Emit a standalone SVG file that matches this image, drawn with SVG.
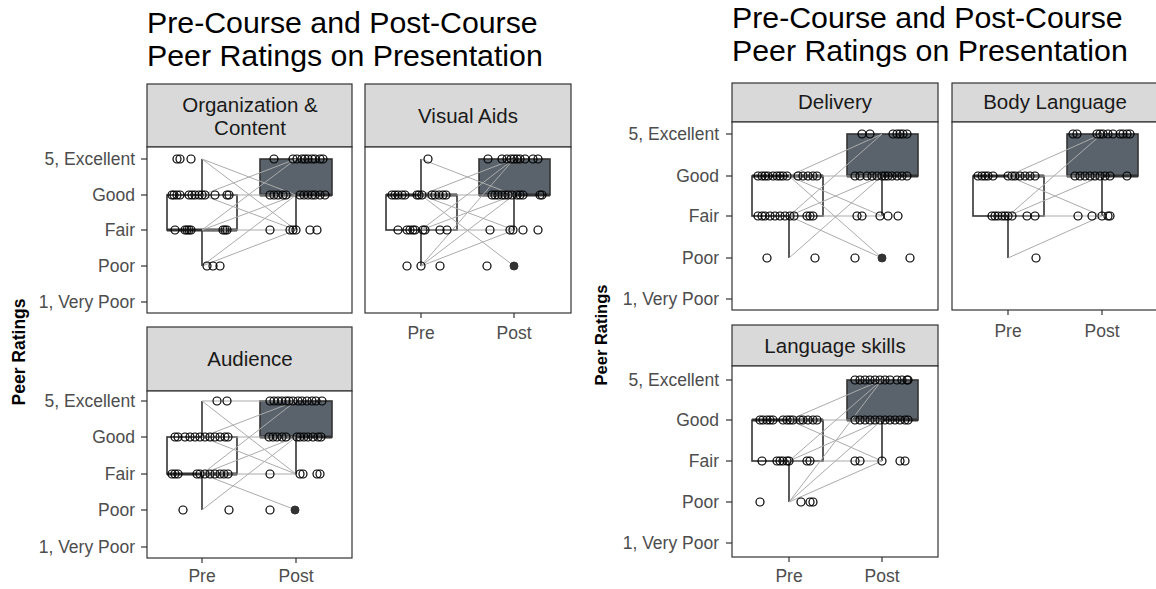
<svg xmlns="http://www.w3.org/2000/svg" width="1156" height="589" viewBox="0 0 1156 589">
<style>
.t{font-family:"Liberation Sans",Arial,sans-serif;font-size:30.3px;fill:#000}
.s{font-family:"Liberation Sans",Arial,sans-serif;font-size:20.5px;fill:#1a1a1a;text-anchor:middle}
.y{font-family:"Liberation Sans",Arial,sans-serif;font-size:17.5px;fill:#4d4d4d;text-anchor:end}
.x{font-family:"Liberation Sans",Arial,sans-serif;font-size:17.5px;fill:#4d4d4d;text-anchor:middle}
.a{font-family:"Liberation Sans",Arial,sans-serif;font-weight:bold;fill:#000;text-anchor:middle}
.st{fill:#d9d9d9;stroke:#333;stroke-width:1.2}
.pn{fill:#fff;stroke:#333;stroke-width:1.2}
.tk{stroke:#333;stroke-width:1.2}
.bx{fill:none;stroke:#333;stroke-width:1.6}
.bf{fill:#5a636c;stroke:#333;stroke-width:1.6}
.md{stroke:#333;stroke-width:3}
.wk{stroke:#333;stroke-width:1.6}
.ln{fill:none;stroke:#ababab;stroke-width:1}
.p circle{fill:none;stroke:#000;stroke-width:1.2;r:4px}
.o{fill:#333;stroke:#333}
</style>
<rect width="1156" height="589" fill="#fff"/>

<!-- LEFT FIGURE -->
<text class="t" x="147" y="33">Pre-Course and Post-Course</text>
<text class="t" x="147" y="66">Peer Ratings on Presentation</text>
<text class="a" font-size="17.5" transform="translate(25,352) rotate(-90)">Peer Ratings</text>

<g id="org-content">
<rect class="st" x="147" y="84" width="205" height="63"/>
<text class="s" x="250" y="112">Organization &amp;</text>
<text class="s" x="250" y="135">Content</text>
<rect class="pn" x="147" y="147" width="205" height="166"/>
<g class="tk"><line x1="141" y1="159" x2="147" y2="159"/><line x1="141" y1="195" x2="147" y2="195"/><line x1="141" y1="230" x2="147" y2="230"/><line x1="141" y1="266" x2="147" y2="266"/><line x1="141" y1="302" x2="147" y2="302"/></g>
<text class="y" x="135" y="165">5, Excellent</text><text class="y" x="135" y="201">Good</text><text class="y" x="135" y="236">Fair</text><text class="y" x="135" y="272">Poor</text><text class="y" x="135" y="308">1, Very Poor</text>
<line class="wk" x1="202" y1="159" x2="202" y2="195"/><line class="wk" x1="202" y1="230" x2="202" y2="266"/>
<rect class="bx" x="167" y="195" width="70" height="35"/><line class="md" x1="167" y1="230" x2="237" y2="230"/>
<line class="wk" x1="296" y1="195" x2="296" y2="230"/>
<rect class="bf" x="260" y="159" width="72" height="36"/><line class="md" x1="260" y1="195" x2="332" y2="195"/>
<path class="ln" d="M202 159L296 230M202 159L296 195M202 195L296 159M202 195L296 195M202 195L296 230M202 230L296 159M202 230L296 195M202 230L296 230M202 266L296 195M202 266L296 230"/>
<g class="p">
<circle cx="177" cy="159" r="4"/><circle cx="180" cy="159" r="4"/><circle cx="191" cy="159" r="4"/>
<circle cx="172" cy="195" r="4"/><circle cx="174" cy="195" r="4"/><circle cx="177" cy="195" r="4"/><circle cx="180" cy="195" r="4"/><circle cx="189" cy="195" r="4"/><circle cx="192" cy="195" r="4"/><circle cx="195" cy="195" r="4"/><circle cx="199" cy="195" r="4"/><circle cx="202" cy="195" r="4"/><circle cx="205" cy="195" r="4"/><circle cx="215" cy="195" r="4"/><circle cx="227" cy="195" r="4"/><circle cx="229" cy="195" r="4"/>
<circle cx="175" cy="230" r="4"/><circle cx="185" cy="230" r="4"/><circle cx="187" cy="230" r="4"/><circle cx="189" cy="230" r="4"/><circle cx="191" cy="230" r="4"/><circle cx="223" cy="230" r="4"/><circle cx="225" cy="230" r="4"/><circle cx="227" cy="230" r="4"/>
<circle cx="207" cy="266" r="4"/><circle cx="213" cy="266" r="4"/><circle cx="220" cy="266" r="4"/>
<circle cx="274" cy="159" r="4"/><circle cx="293" cy="159" r="4"/><circle cx="297" cy="159" r="4"/><circle cx="302" cy="159" r="4"/><circle cx="305" cy="159" r="4"/><circle cx="308" cy="159" r="4"/><circle cx="312" cy="159" r="4"/><circle cx="315" cy="159" r="4"/><circle cx="320" cy="159" r="4"/><circle cx="323" cy="159" r="4"/>
<circle cx="270" cy="195" r="4"/><circle cx="274" cy="195" r="4"/><circle cx="278" cy="195" r="4"/><circle cx="283" cy="195" r="4"/><circle cx="286" cy="195" r="4"/><circle cx="300" cy="195" r="4"/><circle cx="304" cy="195" r="4"/><circle cx="308" cy="195" r="4"/><circle cx="312" cy="195" r="4"/><circle cx="315" cy="195" r="4"/><circle cx="320" cy="195" r="4"/><circle cx="325" cy="195" r="4"/>
<circle cx="270" cy="230" r="4"/><circle cx="290" cy="230" r="4"/><circle cx="293" cy="230" r="4"/><circle cx="296" cy="230" r="4"/><circle cx="310" cy="230" r="4"/><circle cx="317" cy="230" r="4"/>
</g>
</g>

<g id="visual-aids">
<rect class="st" x="365" y="84" width="206" height="63"/>
<text class="s" x="468" y="123">Visual Aids</text>
<rect class="pn" x="365" y="147" width="206" height="166"/>
<g class="tk"><line x1="421" y1="313" x2="421" y2="318"/><line x1="514" y1="313" x2="514" y2="318"/></g>
<text class="x" x="421" y="339">Pre</text><text class="x" x="514" y="339">Post</text>
<line class="wk" x1="421" y1="159" x2="421" y2="195"/><line class="wk" x1="421" y1="230" x2="421" y2="266"/>
<rect class="bx" x="386" y="195" width="71" height="35"/><line class="md" x1="386" y1="195" x2="457" y2="195"/>
<line class="wk" x1="514" y1="195" x2="514" y2="230"/>
<rect class="bf" x="479" y="159" width="71" height="36"/><line class="md" x1="479" y1="195" x2="550" y2="195"/>
<path class="ln" d="M421 159L514 195M421 195L514 159M421 195L514 195M421 195L514 230M421 195L514 266M421 230L514 159M421 230L514 195M421 230L514 230M421 266L514 159M421 266L514 195M421 266L514 230"/>
<circle class="o" cx="514" cy="266" r="4"/>
<g class="p">
<circle cx="428" cy="159" r="4"/>
<circle cx="392" cy="195" r="4"/><circle cx="395" cy="195" r="4"/><circle cx="398" cy="195" r="4"/><circle cx="402" cy="195" r="4"/><circle cx="405" cy="195" r="4"/><circle cx="417" cy="195" r="4"/><circle cx="419" cy="195" r="4"/><circle cx="422" cy="195" r="4"/><circle cx="432" cy="195" r="4"/><circle cx="435" cy="195" r="4"/><circle cx="439" cy="195" r="4"/><circle cx="443" cy="195" r="4"/><circle cx="446" cy="195" r="4"/>
<circle cx="398" cy="230" r="4"/><circle cx="407" cy="230" r="4"/><circle cx="410" cy="230" r="4"/><circle cx="413" cy="230" r="4"/><circle cx="415" cy="230" r="4"/><circle cx="423" cy="230" r="4"/><circle cx="425" cy="230" r="4"/><circle cx="440" cy="230" r="4"/><circle cx="447" cy="230" r="4"/>
<circle cx="407" cy="266" r="4"/><circle cx="421" cy="266" r="4"/><circle cx="440" cy="266" r="4"/>
<circle cx="488" cy="159" r="4"/><circle cx="502" cy="159" r="4"/><circle cx="507" cy="159" r="4"/><circle cx="511" cy="159" r="4"/><circle cx="514" cy="159" r="4"/><circle cx="517" cy="159" r="4"/><circle cx="520" cy="159" r="4"/><circle cx="525" cy="159" r="4"/><circle cx="533" cy="159" r="4"/><circle cx="538" cy="159" r="4"/>
<circle cx="492" cy="195" r="4"/><circle cx="495" cy="195" r="4"/><circle cx="498" cy="195" r="4"/><circle cx="502" cy="195" r="4"/><circle cx="505" cy="195" r="4"/><circle cx="508" cy="195" r="4"/><circle cx="512" cy="195" r="4"/><circle cx="517" cy="195" r="4"/><circle cx="520" cy="195" r="4"/><circle cx="523" cy="195" r="4"/><circle cx="540" cy="195" r="4"/><circle cx="542" cy="195" r="4"/>
<circle cx="490" cy="230" r="4"/><circle cx="510" cy="230" r="4"/><circle cx="513" cy="230" r="4"/><circle cx="523" cy="230" r="4"/><circle cx="538" cy="230" r="4"/>
<circle cx="487" cy="266" r="4"/>
</g>
</g>

<g id="audience">
<rect class="st" x="147" y="327" width="205" height="64"/>
<text class="s" x="250" y="366">Audience</text>
<rect class="pn" x="147" y="391" width="205" height="167"/>
<g class="tk"><line x1="141" y1="401" x2="147" y2="401"/><line x1="141" y1="437" x2="147" y2="437"/><line x1="141" y1="474" x2="147" y2="474"/><line x1="141" y1="510" x2="147" y2="510"/><line x1="141" y1="547" x2="147" y2="547"/><line x1="202" y1="558" x2="202" y2="563"/><line x1="296" y1="558" x2="296" y2="563"/></g>
<text class="y" x="135" y="407">5, Excellent</text><text class="y" x="135" y="443">Good</text><text class="y" x="135" y="480">Fair</text><text class="y" x="135" y="516">Poor</text><text class="y" x="135" y="553">1, Very Poor</text>
<text class="x" x="202" y="582">Pre</text><text class="x" x="296" y="582">Post</text>
<line class="wk" x1="202" y1="401" x2="202" y2="437"/><line class="wk" x1="202" y1="474" x2="202" y2="510"/>
<rect class="bx" x="167" y="437" width="70" height="37"/><line class="md" x1="167" y1="474" x2="237" y2="474"/>
<line class="wk" x1="296" y1="437" x2="296" y2="474"/>
<rect class="bf" x="260" y="401" width="72" height="36"/><line class="md" x1="260" y1="437" x2="332" y2="437"/>
<path class="ln" d="M202 401L296 401M202 401L296 474M202 437L296 401M202 437L296 437M202 437L296 474M202 474L296 401M202 474L296 437M202 474L296 474M202 474L296 510M202 510L296 437"/>
<circle class="o" cx="295" cy="510" r="4"/>
<g class="p">
<circle cx="217" cy="401" r="4"/><circle cx="227" cy="401" r="4"/>
<circle cx="175" cy="437" r="4"/><circle cx="178" cy="437" r="4"/><circle cx="185" cy="437" r="4"/><circle cx="190" cy="437" r="4"/><circle cx="195" cy="437" r="4"/><circle cx="200" cy="437" r="4"/><circle cx="205" cy="437" r="4"/><circle cx="210" cy="437" r="4"/><circle cx="215" cy="437" r="4"/><circle cx="220" cy="437" r="4"/><circle cx="225" cy="437" r="4"/><circle cx="228" cy="437" r="4"/>
<circle cx="172" cy="474" r="4"/><circle cx="175" cy="474" r="4"/><circle cx="178" cy="474" r="4"/><circle cx="197" cy="474" r="4"/><circle cx="200" cy="474" r="4"/><circle cx="205" cy="474" r="4"/><circle cx="210" cy="474" r="4"/><circle cx="215" cy="474" r="4"/><circle cx="220" cy="474" r="4"/><circle cx="224" cy="474" r="4"/><circle cx="228" cy="474" r="4"/>
<circle cx="183" cy="510" r="4"/><circle cx="229" cy="510" r="4"/>
<circle cx="270" cy="401" r="4"/><circle cx="274" cy="401" r="4"/><circle cx="278" cy="401" r="4"/><circle cx="282" cy="401" r="4"/><circle cx="286" cy="401" r="4"/><circle cx="289" cy="401" r="4"/><circle cx="293" cy="401" r="4"/><circle cx="298" cy="401" r="4"/><circle cx="302" cy="401" r="4"/><circle cx="307" cy="401" r="4"/><circle cx="312" cy="401" r="4"/><circle cx="316" cy="401" r="4"/><circle cx="322" cy="401" r="4"/>
<circle cx="269" cy="437" r="4"/><circle cx="273" cy="437" r="4"/><circle cx="277" cy="437" r="4"/><circle cx="282" cy="437" r="4"/><circle cx="286" cy="437" r="4"/><circle cx="297" cy="437" r="4"/><circle cx="300" cy="437" r="4"/><circle cx="304" cy="437" r="4"/><circle cx="308" cy="437" r="4"/><circle cx="313" cy="437" r="4"/><circle cx="318" cy="437" r="4"/><circle cx="321" cy="437" r="4"/>
<circle cx="270" cy="474" r="4"/><circle cx="300" cy="474" r="4"/><circle cx="303" cy="474" r="4"/><circle cx="317" cy="474" r="4"/><circle cx="320" cy="474" r="4"/>
<circle cx="270" cy="510" r="4"/>
</g>
</g>

<!-- RIGHT FIGURE -->
<text class="t" x="732" y="28">Pre-Course and Post-Course</text>
<text class="t" x="732" y="61">Peer Ratings on Presentation</text>
<text class="a" font-size="16.5" transform="translate(607,335) rotate(-90)">Peer Ratings</text>

<g id="delivery">
<rect class="st" x="732" y="83" width="206" height="39"/>
<text class="s" x="835" y="109">Delivery</text>
<rect class="pn" x="732" y="122" width="206" height="188"/>
<g class="tk"><line x1="726" y1="134" x2="732" y2="134"/><line x1="726" y1="176" x2="732" y2="176"/><line x1="726" y1="216" x2="732" y2="216"/><line x1="726" y1="258" x2="732" y2="258"/><line x1="726" y1="299" x2="732" y2="299"/></g>
<text class="y" x="719" y="140">5, Excellent</text><text class="y" x="719" y="182">Good</text><text class="y" x="719" y="222">Fair</text><text class="y" x="719" y="264">Poor</text><text class="y" x="719" y="305">1, Very Poor</text>
<line class="wk" x1="789" y1="216" x2="789" y2="258"/>
<rect class="bx" x="752" y="176" width="71" height="40"/><line class="md" x1="752" y1="176" x2="823" y2="176"/>
<line class="wk" x1="882" y1="176" x2="882" y2="216"/>
<rect class="bf" x="847" y="134" width="71" height="42"/><line class="md" x1="847" y1="176" x2="918" y2="176"/>
<path class="ln" d="M789 176L882 134M789 176L882 176M789 176L882 216M789 176L882 258M789 216L882 134M789 216L882 176M789 216L882 216M789 216L882 258M789 258L882 176"/>
<circle class="o" cx="882" cy="258" r="4"/>
<g class="p">
<circle cx="758" cy="176" r="4"/><circle cx="762" cy="176" r="4"/><circle cx="765" cy="176" r="4"/><circle cx="768" cy="176" r="4"/><circle cx="773" cy="176" r="4"/><circle cx="777" cy="176" r="4"/><circle cx="780" cy="176" r="4"/><circle cx="783" cy="176" r="4"/><circle cx="787" cy="176" r="4"/><circle cx="798" cy="176" r="4"/><circle cx="803" cy="176" r="4"/><circle cx="808" cy="176" r="4"/><circle cx="813" cy="176" r="4"/><circle cx="817" cy="176" r="4"/>
<circle cx="758" cy="216" r="4"/><circle cx="762" cy="216" r="4"/><circle cx="765" cy="216" r="4"/><circle cx="770" cy="216" r="4"/><circle cx="775" cy="216" r="4"/><circle cx="780" cy="216" r="4"/><circle cx="785" cy="216" r="4"/><circle cx="790" cy="216" r="4"/><circle cx="794" cy="216" r="4"/><circle cx="807" cy="216" r="4"/><circle cx="810" cy="216" r="4"/><circle cx="813" cy="216" r="4"/>
<circle cx="767" cy="258" r="4"/><circle cx="815" cy="258" r="4"/>
<circle cx="862" cy="134" r="4"/><circle cx="870" cy="134" r="4"/><circle cx="893" cy="134" r="4"/><circle cx="897" cy="134" r="4"/><circle cx="900" cy="134" r="4"/><circle cx="903" cy="134" r="4"/><circle cx="907" cy="134" r="4"/>
<circle cx="855" cy="176" r="4"/><circle cx="860" cy="176" r="4"/><circle cx="867" cy="176" r="4"/><circle cx="872" cy="176" r="4"/><circle cx="877" cy="176" r="4"/><circle cx="882" cy="176" r="4"/><circle cx="885" cy="176" r="4"/><circle cx="888" cy="176" r="4"/><circle cx="892" cy="176" r="4"/><circle cx="897" cy="176" r="4"/><circle cx="902" cy="176" r="4"/><circle cx="907" cy="176" r="4"/>
<circle cx="857" cy="216" r="4"/><circle cx="862" cy="216" r="4"/><circle cx="880" cy="216" r="4"/><circle cx="888" cy="216" r="4"/><circle cx="898" cy="216" r="4"/>
<circle cx="855" cy="258" r="4"/><circle cx="910" cy="258" r="4"/>
</g>
</g>

<g id="body-language">
<rect class="st" x="952" y="83" width="206" height="39"/>
<text class="s" x="1055" y="109">Body Language</text>
<rect class="pn" x="952" y="122" width="206" height="188"/>
<g class="tk"><line x1="1008" y1="310" x2="1008" y2="315"/><line x1="1102" y1="310" x2="1102" y2="315"/></g>
<text class="x" x="1008" y="337">Pre</text><text class="x" x="1102" y="337">Post</text>
<line class="wk" x1="1008" y1="216" x2="1008" y2="258"/>
<rect class="bx" x="973" y="176" width="71" height="40"/><line class="md" x1="973" y1="176" x2="1044" y2="176"/>
<line class="wk" x1="1102" y1="176" x2="1102" y2="216"/>
<rect class="bf" x="1067" y="134" width="71" height="42"/><line class="md" x1="1067" y1="176" x2="1138" y2="176"/>
<path class="ln" d="M1008 176L1102 134M1008 176L1102 176M1008 176L1102 216M1008 216L1102 134M1008 216L1102 176M1008 216L1102 216M1008 258L1102 216"/>
<g class="p">
<circle cx="978" cy="176" r="4"/><circle cx="982" cy="176" r="4"/><circle cx="985" cy="176" r="4"/><circle cx="988" cy="176" r="4"/><circle cx="993" cy="176" r="4"/><circle cx="1008" cy="176" r="4"/><circle cx="1012" cy="176" r="4"/><circle cx="1015" cy="176" r="4"/><circle cx="1020" cy="176" r="4"/><circle cx="1025" cy="176" r="4"/><circle cx="1030" cy="176" r="4"/><circle cx="1035" cy="176" r="4"/>
<circle cx="992" cy="216" r="4"/><circle cx="995" cy="216" r="4"/><circle cx="998" cy="216" r="4"/><circle cx="1002" cy="216" r="4"/><circle cx="1005" cy="216" r="4"/><circle cx="1008" cy="216" r="4"/><circle cx="1012" cy="216" r="4"/><circle cx="1027" cy="216" r="4"/><circle cx="1035" cy="216" r="4"/>
<circle cx="1036" cy="258" r="4"/>
<circle cx="1073" cy="134" r="4"/><circle cx="1077" cy="134" r="4"/><circle cx="1097" cy="134" r="4"/><circle cx="1100" cy="134" r="4"/><circle cx="1103" cy="134" r="4"/><circle cx="1108" cy="134" r="4"/><circle cx="1113" cy="134" r="4"/><circle cx="1120" cy="134" r="4"/><circle cx="1123" cy="134" r="4"/><circle cx="1127" cy="134" r="4"/><circle cx="1130" cy="134" r="4"/>
<circle cx="1075" cy="176" r="4"/><circle cx="1080" cy="176" r="4"/><circle cx="1085" cy="176" r="4"/><circle cx="1090" cy="176" r="4"/><circle cx="1095" cy="176" r="4"/><circle cx="1100" cy="176" r="4"/><circle cx="1105" cy="176" r="4"/><circle cx="1110" cy="176" r="4"/><circle cx="1127" cy="176" r="4"/>
<circle cx="1078" cy="216" r="4"/><circle cx="1092" cy="216" r="4"/><circle cx="1102" cy="216" r="4"/><circle cx="1108" cy="216" r="4"/><circle cx="1110" cy="216" r="4"/>
</g>
</g>

<g id="language-skills">
<rect class="st" x="732" y="325" width="206" height="41"/>
<text class="s" x="835" y="353">Language skills</text>
<rect class="pn" x="732" y="366" width="206" height="191"/>
<g class="tk"><line x1="726" y1="380" x2="732" y2="380"/><line x1="726" y1="420" x2="732" y2="420"/><line x1="726" y1="461" x2="732" y2="461"/><line x1="726" y1="502" x2="732" y2="502"/><line x1="726" y1="543" x2="732" y2="543"/><line x1="789" y1="557" x2="789" y2="562"/><line x1="882" y1="557" x2="882" y2="562"/></g>
<text class="y" x="719" y="386">5, Excellent</text><text class="y" x="719" y="426">Good</text><text class="y" x="719" y="467">Fair</text><text class="y" x="719" y="508">Poor</text><text class="y" x="719" y="549">1, Very Poor</text>
<text class="x" x="789" y="582">Pre</text><text class="x" x="882" y="582">Post</text>
<line class="wk" x1="789" y1="461" x2="789" y2="502"/>
<rect class="bx" x="752" y="420" width="71" height="41"/><line class="md" x1="752" y1="420" x2="823" y2="420"/>
<line class="wk" x1="882" y1="420" x2="882" y2="461"/>
<rect class="bf" x="847" y="380" width="71" height="40"/><line class="md" x1="847" y1="420" x2="918" y2="420"/>
<path class="ln" d="M789 420L882 380M789 420L882 420M789 420L882 461M789 461L882 380M789 461L882 420M789 461L882 461M789 502L882 380M789 502L882 420M789 502L882 461"/>
<g class="p">
<circle cx="760" cy="420" r="4"/><circle cx="763" cy="420" r="4"/><circle cx="767" cy="420" r="4"/><circle cx="770" cy="420" r="4"/><circle cx="773" cy="420" r="4"/><circle cx="783" cy="420" r="4"/><circle cx="787" cy="420" r="4"/><circle cx="790" cy="420" r="4"/><circle cx="793" cy="420" r="4"/><circle cx="800" cy="420" r="4"/><circle cx="803" cy="420" r="4"/><circle cx="808" cy="420" r="4"/><circle cx="813" cy="420" r="4"/><circle cx="817" cy="420" r="4"/>
<circle cx="762" cy="461" r="4"/><circle cx="777" cy="461" r="4"/><circle cx="780" cy="461" r="4"/><circle cx="783" cy="461" r="4"/><circle cx="787" cy="461" r="4"/><circle cx="789" cy="461" r="4"/><circle cx="807" cy="461" r="4"/><circle cx="810" cy="461" r="4"/>
<circle cx="760" cy="502" r="4"/><circle cx="801" cy="502" r="4"/><circle cx="810" cy="502" r="4"/><circle cx="813" cy="502" r="4"/>
<circle cx="855" cy="380" r="4"/><circle cx="860" cy="380" r="4"/><circle cx="865" cy="380" r="4"/><circle cx="870" cy="380" r="4"/><circle cx="875" cy="380" r="4"/><circle cx="880" cy="380" r="4"/><circle cx="885" cy="380" r="4"/><circle cx="890" cy="380" r="4"/><circle cx="897" cy="380" r="4"/><circle cx="902" cy="380" r="4"/><circle cx="907" cy="380" r="4"/><circle cx="908" cy="380" r="4"/>
<circle cx="855" cy="420" r="4"/><circle cx="860" cy="420" r="4"/><circle cx="865" cy="420" r="4"/><circle cx="870" cy="420" r="4"/><circle cx="875" cy="420" r="4"/><circle cx="880" cy="420" r="4"/><circle cx="885" cy="420" r="4"/><circle cx="890" cy="420" r="4"/><circle cx="895" cy="420" r="4"/><circle cx="900" cy="420" r="4"/><circle cx="905" cy="420" r="4"/><circle cx="908" cy="420" r="4"/>
<circle cx="855" cy="461" r="4"/><circle cx="860" cy="461" r="4"/><circle cx="882" cy="461" r="4"/><circle cx="900" cy="461" r="4"/><circle cx="905" cy="461" r="4"/>
</g>
</g>
</svg>
